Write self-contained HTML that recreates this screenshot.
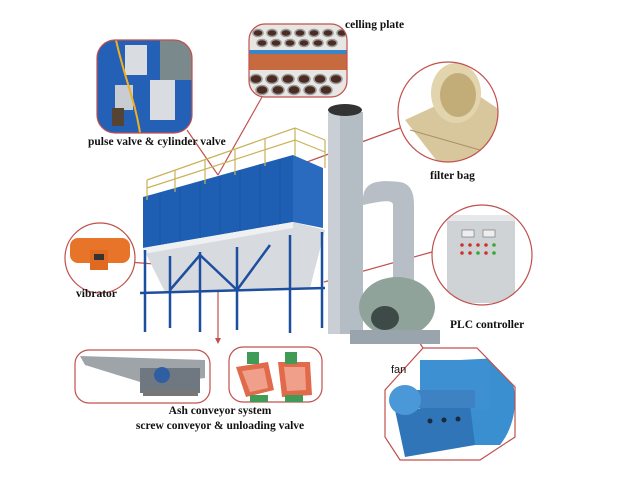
<!DOCTYPE html>
<html><head><meta charset="utf-8"><style>
html,body{margin:0;padding:0;background:#fff;width:640px;height:480px;overflow:hidden}
svg text{font-family:"Liberation Serif",serif;font-weight:bold;fill:#111}
</style></head><body>
<svg width="640" height="480" viewBox="0 0 640 480" xmlns="http://www.w3.org/2000/svg">
<defs>
<clipPath id="c1"><rect x="97" y="40" width="95" height="93" rx="18"/></clipPath>
<clipPath id="c2"><rect x="249" y="24" width="98" height="73" rx="16"/></clipPath>
<clipPath id="c3"><circle cx="448" cy="112" r="50"/></clipPath>
<clipPath id="c4"><circle cx="482" cy="255" r="50"/></clipPath>
<clipPath id="c5"><circle cx="100" cy="258" r="35"/></clipPath>
<clipPath id="c6"><polygon points="423,348 477,348 515,387 515,437 480,460 400,460 385,437 385,390"/></clipPath>
</defs>

<!-- connector lines -->
<g stroke="#c0504d" stroke-width="1.2" fill="none">
<line x1="187" y1="130" x2="218" y2="175"/>
<line x1="262" y1="97" x2="218" y2="175"/>
<line x1="400" y1="128" x2="285" y2="170"/>
<line x1="432" y1="252" x2="324" y2="282"/>
<line x1="128" y1="262" x2="168" y2="265"/>
<line x1="218" y1="290" x2="218" y2="340"/>
<line x1="405" y1="320" x2="423" y2="348"/>
</g>
<polygon points="215,338 221,338 218,344" fill="#c0504d"/>

<!-- main blue box -->
<polygon points="143,197 293,155 293,222 143,248" fill="#1e5fb3"/>
<polygon points="293,155 323,168 323,228 293,222" fill="#2a6bc0"/>
<g stroke="#174f99" stroke-width="0.6">
<line x1="160" y1="193" x2="160" y2="245"/><line x1="180" y1="187" x2="180" y2="242"/><line x1="200" y1="182" x2="200" y2="238"/><line x1="220" y1="176" x2="220" y2="235"/><line x1="240" y1="170" x2="240" y2="231"/><line x1="260" y1="164" x2="260" y2="228"/><line x1="280" y1="159" x2="280" y2="224"/>
</g>
<!-- railing -->
<g stroke="#c9b25a" stroke-width="1.2" fill="none">
<polyline points="147,180 295,128 325,140"/>
<polyline points="147,188 295,140 325,152"/>
<line x1="147" y1="180" x2="147" y2="200"/><line x1="175" y1="170" x2="175" y2="192"/><line x1="205" y1="160" x2="205" y2="184"/><line x1="235" y1="150" x2="235" y2="175"/><line x1="265" y1="139" x2="265" y2="166"/><line x1="295" y1="128" x2="295" y2="156"/><line x1="325" y1="140" x2="325" y2="168"/>
</g>
<!-- hopper -->
<polygon points="143,248 293,222 325,230 310,288 165,292" fill="#d7dbe0"/>
<polygon points="143,248 293,222 293,228 143,254" fill="#eef0f2"/>
<g stroke="#1d4f9e" stroke-width="2.5">
<line x1="140" y1="293" x2="325" y2="288"/>
<line x1="145" y1="250" x2="145" y2="332"/><line x1="170" y1="256" x2="170" y2="328"/><line x1="200" y1="252" x2="200" y2="332"/><line x1="237" y1="247" x2="237" y2="330"/><line x1="290" y1="235" x2="290" y2="333"/><line x1="322" y1="232" x2="322" y2="328"/>
<line x1="170" y1="290" x2="200" y2="255"/><line x1="200" y1="255" x2="237" y2="290"/><line x1="237" y1="290" x2="270" y2="245"/>
</g>
<!-- stack -->
<rect x="328" y="112" width="35" height="222" fill="#b4bcc4"/>
<rect x="328" y="112" width="12" height="222" fill="#c9cfd5"/>
<ellipse cx="345" cy="110" rx="17" ry="6" fill="#333"/>
<!-- pipe -->
<path d="M363,200 C363,180 380,180 400,182 C412,184 414,195 414,205 L414,280 L393,280 L393,205 C393,200 385,200 363,205 Z" fill="#b7bec6"/>
<!-- fan -->
<ellipse cx="397" cy="307" rx="38" ry="30" fill="#8fa39a"/>
<rect x="350" y="330" width="90" height="14" fill="#9aa4ad"/>
<ellipse cx="385" cy="318" rx="14" ry="12" fill="#3e4a48"/>

<!-- pulse valve inset -->
<g clip-path="url(#c1)">
<rect x="97" y="40" width="95" height="93" fill="#2460b5"/>
<rect x="160" y="40" width="32" height="40" fill="#7a8a8c"/>
<rect x="125" y="45" width="22" height="30" fill="#d9dde2"/>
<rect x="150" y="80" width="25" height="40" fill="#d9dde2"/>
<rect x="115" y="85" width="18" height="25" fill="#c9cdd2"/>
<rect x="112" y="108" width="12" height="18" fill="#554433"/>
<path d="M116,40 C125,80 135,100 140,133" stroke="#f0b020" stroke-width="2" fill="none"/>
</g>
<rect x="97" y="40" width="95" height="93" rx="18" fill="none" stroke="#c0504d" stroke-width="1.2"/>
<text x="88" y="145" font-size="11.5">pulse valve &amp; cylinder valve</text>

<!-- ceiling plate inset -->
<g clip-path="url(#c2)">
<rect x="249" y="24" width="98" height="73" fill="#c86a3f"/>
<rect x="249" y="24" width="98" height="26" fill="#e8e6e2"/>
<rect x="249" y="70" width="98" height="27" fill="#e8e6e2"/>
<rect x="249" y="50" width="98" height="4" fill="#3a87c8"/>
<g fill="#4a2c22" stroke="#9a9a9a" stroke-width="1.5">
<ellipse cx="258" cy="33" rx="5" ry="3.5"/><ellipse cx="272" cy="33" rx="5" ry="3.5"/><ellipse cx="286" cy="33" rx="5" ry="3.5"/><ellipse cx="300" cy="33" rx="5" ry="3.5"/><ellipse cx="314" cy="33" rx="5" ry="3.5"/><ellipse cx="328" cy="33" rx="5" ry="3.5"/><ellipse cx="342" cy="33" rx="5" ry="3.5"/>
<ellipse cx="262" cy="43" rx="5" ry="3.5"/><ellipse cx="276" cy="43" rx="5" ry="3.5"/><ellipse cx="290" cy="43" rx="5" ry="3.5"/><ellipse cx="304" cy="43" rx="5" ry="3.5"/><ellipse cx="318" cy="43" rx="5" ry="3.5"/><ellipse cx="332" cy="43" rx="5" ry="3.5"/>
<ellipse cx="256" cy="79" rx="6" ry="4.5"/><ellipse cx="272" cy="79" rx="6" ry="4.5"/><ellipse cx="288" cy="79" rx="6" ry="4.5"/><ellipse cx="304" cy="79" rx="6" ry="4.5"/><ellipse cx="320" cy="79" rx="6" ry="4.5"/><ellipse cx="336" cy="79" rx="6" ry="4.5"/>
<ellipse cx="262" cy="90" rx="6" ry="4.5"/><ellipse cx="278" cy="90" rx="6" ry="4.5"/><ellipse cx="294" cy="90" rx="6" ry="4.5"/><ellipse cx="310" cy="90" rx="6" ry="4.5"/><ellipse cx="326" cy="90" rx="6" ry="4.5"/>
</g>
</g>
<rect x="249" y="24" width="98" height="73" rx="16" fill="none" stroke="#c0504d" stroke-width="1.2"/>
<text x="345" y="28" font-size="11.5">celling plate</text>

<!-- filter bag -->
<g clip-path="url(#c3)">
<rect x="398" y="62" width="100" height="100" fill="#fff"/>
<polygon points="405,120 470,90 500,110 500,165 440,165" fill="#d8c79c"/>
<ellipse cx="456" cy="93" rx="25" ry="30" fill="#e2d4ad"/>
<ellipse cx="458" cy="95" rx="18" ry="22" fill="#c2ad78"/>
<line x1="410" y1="130" x2="480" y2="150" stroke="#a89264"/>
</g>
<circle cx="448" cy="112" r="50" fill="none" stroke="#c0504d" stroke-width="1.2"/>
<text x="430" y="179" font-size="11.5">filter bag</text>

<!-- PLC -->
<g clip-path="url(#c4)">
<rect x="432" y="205" width="100" height="100" fill="#fff"/>
<rect x="447" y="215" width="68" height="88" fill="#cfd3d6"/>
<rect x="447" y="215" width="68" height="6" fill="#e6e8ea"/>
<rect x="462" y="230" width="12" height="7" fill="#eee" stroke="#555" stroke-width="0.5"/>
<rect x="483" y="230" width="12" height="7" fill="#eee" stroke="#555" stroke-width="0.5"/>
<g fill="#c33"><circle cx="462" cy="245" r="1.8"/><circle cx="470" cy="245" r="1.8"/><circle cx="478" cy="245" r="1.8"/><circle cx="486" cy="245" r="1.8"/><circle cx="462" cy="253" r="1.8"/><circle cx="470" cy="253" r="1.8"/><circle cx="486" cy="253" r="1.8"/></g>
<g fill="#3a3"><circle cx="494" cy="245" r="1.8"/><circle cx="478" cy="253" r="1.8"/><circle cx="494" cy="253" r="1.8"/></g>
</g>
<circle cx="482" cy="255" r="50" fill="none" stroke="#c0504d" stroke-width="1.2"/>
<text x="450" y="328" font-size="11.5">PLC controller</text>

<!-- vibrator -->
<g clip-path="url(#c5)">
<rect x="65" y="223" width="70" height="70" fill="#fff"/>
<rect x="70" y="238" width="60" height="25" rx="8" fill="#e8742a"/>
<rect x="90" y="250" width="18" height="20" fill="#e06a22"/>
<rect x="94" y="254" width="10" height="6" fill="#333"/>
</g>
<circle cx="100" cy="258" r="35" fill="none" stroke="#c0504d" stroke-width="1.2"/>
<text x="76" y="297" font-size="11.5">vibrator</text>

<!-- screw conveyor -->
<rect x="75" y="350" width="135" height="53" rx="14" fill="#fff" stroke="#c0504d" stroke-width="1.2"/>
<polygon points="80,356 205,360 205,378 150,385 85,365" fill="#9ea4a8"/>
<rect x="140" y="368" width="60" height="25" fill="#6f7880"/>
<ellipse cx="162" cy="375" rx="8" ry="8" fill="#2e5fa3"/>
<rect x="143" y="390" width="55" height="6" fill="#777"/>

<!-- valves -->
<rect x="229" y="347" width="93" height="55" rx="14" fill="#fff" stroke="#c0504d" stroke-width="1.2"/>
<polygon points="236,367 268,362 274,390 246,397" fill="#e06a4a"/>
<polygon points="242,371 264,368 268,388 250,392" fill="#f0a08a"/>
<polygon points="278,362 310,362 312,395 282,397" fill="#e06a4a"/>
<polygon points="284,367 305,367 306,390 287,391" fill="#f0a08a"/>
<rect x="247" y="352" width="12" height="12" fill="#3f9b55"/>
<rect x="285" y="352" width="12" height="12" fill="#3f9b55"/>
<rect x="250" y="395" width="18" height="7" fill="#3f9b55"/>
<rect x="285" y="395" width="18" height="7" fill="#3f9b55"/>

<text x="220" y="414" font-size="11.5" text-anchor="middle">Ash conveyor system</text>
<text x="220" y="429" font-size="11.5" text-anchor="middle">screw conveyor &amp; unloading valve</text>

<!-- fan inset -->
<g clip-path="url(#c6)">
<rect x="380" y="345" width="140" height="120" fill="#fff"/>
<path d="M420,362 L500,358 C520,380 520,420 500,445 L470,445 L470,362 Z" fill="#3a8fd0"/>
<rect x="420" y="360" width="70" height="50" fill="#3d90d2"/>
<polygon points="395,410 470,405 475,445 405,457" fill="#2f75b8"/>
<rect x="395" y="390" width="80" height="18" fill="#3f82c4"/>
<ellipse cx="405" cy="400" rx="16" ry="15" fill="#4a98d8"/>
<g fill="#1a2a3a"><circle cx="430" cy="421" r="2.5"/><circle cx="444" cy="420" r="2.5"/><circle cx="458" cy="419" r="2.5"/></g>
</g>
<polygon points="423,348 477,348 515,387 515,437 480,460 400,460 385,437 385,390" fill="none" stroke="#c0504d" stroke-width="1.2"/>
<text x="391" y="373" font-size="11" font-family="Liberation Sans, sans-serif" style="font-family:'Liberation Sans',sans-serif;font-weight:normal">fan</text>
</svg>
</body></html>
